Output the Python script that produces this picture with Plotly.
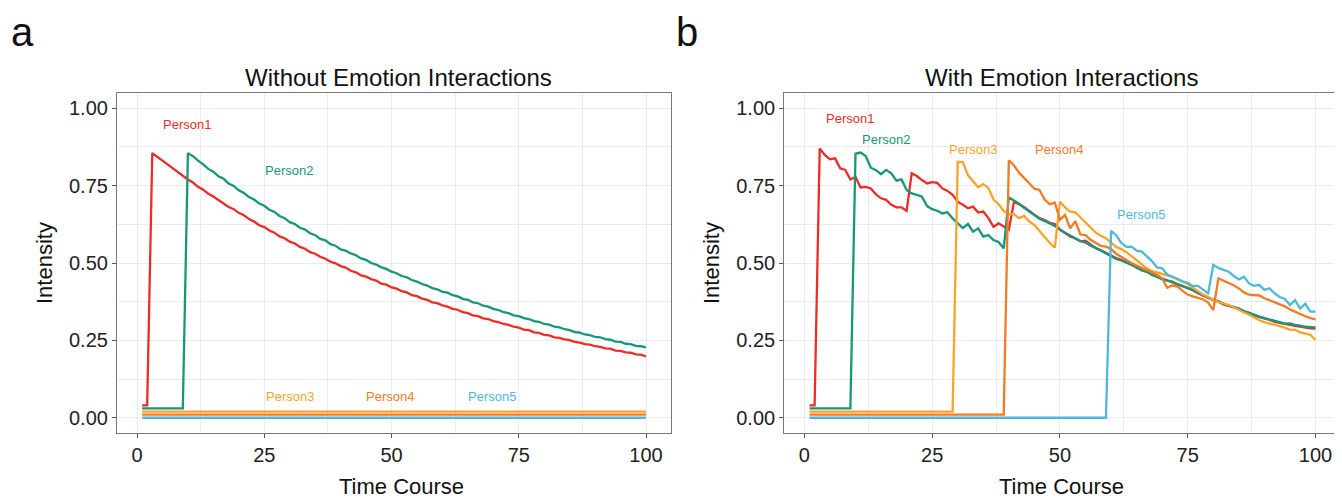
import plotly.graph_objects as go

# ---------------- data ----------------
time_course = list(range(1, 101))
persons = ["Person1", "Person2", "Person3", "Person4", "Person5"]
person_colors = ["#EC2D27", "#17977A", "#F6A52A", "#F47A25", "#4DB8DA"]
y_tick_vals = [0, 0.25, 0.5, 0.75, 1.0]
y_tick_text = ["0.00", "0.25", "0.50", "0.75", "1.00"]
x_tick_vals = [0, 25, 50, 75, 100]
x_tick_text = ["0", "25", "50", "75", "100"]

# Panel a: Without Emotion Interactions
a_person1 = [
    .040, .040, .855, .843, .832, .818, .806, .796, .781, .770,
    .760, .746, .737, .724, .715, .703, .694, .681, .674, .662,
    .654, .642, .634, .622, .616, .605, .598, .586, .580, .569,
    .563, .552, .546, .535, .530, .520, .514, .504, .499, .490,
    .485, .475, .470, .460, .456, .448, .443, .433, .430, .421,
    .417, .409, .405, .396, .393, .385, .381, .373, .370, .363,
    .359, .352, .349, .341, .338, .331, .328, .321, .319, .312,
    .309, .303, .300, .294, .291, .285, .283, .276, .274, .268,
    .266, .260, .258, .253, .251, .245, .243, .238, .236, .231,
    .229, .224, .223, .217, .216, .211, .210, .205, .204, .198,
]
a_person2 = [
    .030, .030, .030, .030, .030, .030, .030, .030, .030, .855,
    .845, .831, .819, .804, .795, .780, .772, .757, .749, .735,
    .726, .713, .705, .692, .685, .672, .665, .652, .645, .632,
    .626, .614, .608, .596, .590, .578, .573, .561, .556, .544,
    .540, .531, .525, .515, .510, .500, .495, .486, .481, .472,
    .467, .458, .454, .445, .440, .432, .427, .419, .415, .407,
    .404, .396, .392, .384, .381, .373, .370, .362, .359, .352,
    .348, .341, .338, .331, .328, .322, .319, .312, .310, .303,
    .301, .294, .292, .286, .283, .277, .275, .269, .267, .261,
    .260, .254, .252, .246, .245, .239, .238, .232, .231, .227,
]
a_person3 = [
    .020, .020, .020, .020, .020, .020, .020, .020, .020, .020,
    .020, .020, .020, .020, .020, .020, .020, .020, .020, .020,
    .020, .020, .020, .020, .020, .020, .020, .020, .020, .020,
    .020, .020, .020, .020, .020, .020, .020, .020, .020, .020,
    .020, .020, .020, .020, .020, .020, .020, .020, .020, .020,
    .020, .020, .020, .020, .020, .020, .020, .020, .020, .020,
    .020, .020, .020, .020, .020, .020, .020, .020, .020, .020,
    .020, .020, .020, .020, .020, .020, .020, .020, .020, .020,
    .020, .020, .020, .020, .020, .020, .020, .020, .020, .020,
    .020, .020, .020, .020, .020, .020, .020, .020, .020, .020,
]
a_person4 = [
    .010, .010, .010, .010, .010, .010, .010, .010, .010, .010,
    .010, .010, .010, .010, .010, .010, .010, .010, .010, .010,
    .010, .010, .010, .010, .010, .010, .010, .010, .010, .010,
    .010, .010, .010, .010, .010, .010, .010, .010, .010, .010,
    .010, .010, .010, .010, .010, .010, .010, .010, .010, .010,
    .010, .010, .010, .010, .010, .010, .010, .010, .010, .010,
    .010, .010, .010, .010, .010, .010, .010, .010, .010, .010,
    .010, .010, .010, .010, .010, .010, .010, .010, .010, .010,
    .010, .010, .010, .010, .010, .010, .010, .010, .010, .010,
    .010, .010, .010, .010, .010, .010, .010, .010, .010, .010,
]
a_person5 = [
    .000, .000, .000, .000, .000, .000, .000, .000, .000, .000,
    .000, .000, .000, .000, .000, .000, .000, .000, .000, .000,
    .000, .000, .000, .000, .000, .000, .000, .000, .000, .000,
    .000, .000, .000, .000, .000, .000, .000, .000, .000, .000,
    .000, .000, .000, .000, .000, .000, .000, .000, .000, .000,
    .000, .000, .000, .000, .000, .000, .000, .000, .000, .000,
    .000, .000, .000, .000, .000, .000, .000, .000, .000, .000,
    .000, .000, .000, .000, .000, .000, .000, .000, .000, .000,
    .000, .000, .000, .000, .000, .000, .000, .000, .000, .000,
    .000, .000, .000, .000, .000, .000, .000, .000, .000, .000,
]

# Panel b: With Emotion Interactions
b_person1 = [
    .040, .040, .870, .849, .835, .838, .806, .801, .770, .778,
    .744, .746, .741, .722, .709, .704, .688, .680, .680, .668,
    .790, .781, .768, .757, .761, .759, .741, .733, .720, .698,
    .688, .677, .682, .663, .666, .645, .617, .628, .618, .608,
    .697, .690, .680, .667, .656, .645, .639, .630, .626, .608,
    .596, .586, .579, .570, .572, .559, .548, .541, .532, .524,
    .516, .510, .504, .496, .485, .478, .470, .462, .456, .448,
    .443, .440, .430, .425, .418, .412, .402, .394, .387, .380,
    .375, .366, .361, .356, .352, .343, .339, .330, .326, .320,
    .316, .310, .306, .302, .300, .297, .294, .290, .289, .288,
]
b_person2 = [
    .030, .030, .030, .030, .030, .030, .030, .030, .030, .853,
    .857, .846, .808, .800, .787, .801, .790, .766, .770, .736,
    .725, .720, .714, .684, .674, .669, .660, .664, .644, .628,
    .613, .626, .601, .612, .585, .590, .574, .568, .547, .712,
    .703, .692, .678, .666, .654, .643, .636, .627, .620, .607,
    .598, .588, .578, .571, .566, .556, .549, .540, .531, .522,
    .513, .508, .502, .494, .486, .476, .472, .461, .455, .447,
    .444, .438, .430, .424, .418, .413, .404, .396, .389, .381,
    .376, .368, .362, .358, .353, .345, .340, .333, .327, .322,
    .318, .312, .308, .304, .305, .300, .298, .294, .293, .292,
]
b_person3 = [
    .020, .020, .020, .020, .020, .020, .020, .020, .020, .020,
    .020, .020, .020, .020, .020, .020, .020, .020, .020, .020,
    .020, .020, .020, .020, .020, .020, .020, .020, .020, .827,
    .826, .784, .765, .745, .755, .742, .705, .690, .668, .656,
    .658, .645, .652, .634, .623, .604, .582, .565, .550, .698,
    .680, .666, .664, .648, .632, .616, .598, .588, .580, .566,
    .552, .545, .535, .522, .510, .496, .482, .474, .470, .466,
    .460, .455, .447, .440, .432, .420, .408, .398, .390, .380,
    .374, .370, .365, .357, .348, .340, .333, .324, .315, .309,
    .305, .301, .297, .291, .284, .284, .276, .273, .268, .251,
]
b_person4 = [
    .010, .010, .010, .010, .010, .010, .010, .010, .010, .010,
    .010, .010, .010, .010, .010, .010, .010, .010, .010, .010,
    .010, .010, .010, .010, .010, .010, .010, .010, .010, .010,
    .010, .010, .010, .010, .010, .010, .010, .010, .010, .832,
    .815, .792, .775, .760, .740, .736, .705, .690, .695, .640,
    .655, .612, .635, .592, .590, .575, .565, .555, .553, .545,
    .530, .520, .508, .500, .492, .484, .476, .470, .462, .450,
    .420, .428, .424, .410, .398, .392, .388, .382, .372, .348,
    .450, .443, .434, .428, .418, .405, .398, .397, .395, .386,
    .380, .372, .368, .360, .350, .342, .336, .328, .322, .318,
]
b_person5 = [
    .000, .000, .000, .000, .000, .000, .000, .000, .000, .000,
    .000, .000, .000, .000, .000, .000, .000, .000, .000, .000,
    .000, .000, .000, .000, .000, .000, .000, .000, .000, .000,
    .000, .000, .000, .000, .000, .000, .000, .000, .000, .000,
    .000, .000, .000, .000, .000, .000, .000, .000, .000, .000,
    .000, .000, .000, .000, .000, .000, .000, .000, .000, .604,
    .590, .565, .552, .553, .540, .537, .522, .506, .486, .483,
    .463, .455, .447, .441, .436, .426, .426, .414, .402, .494,
    .484, .478, .472, .458, .447, .456, .434, .426, .429, .413,
    .418, .402, .390, .384, .364, .380, .353, .368, .343, .343,
]

# label anchor points (data coordinates) for the person names
a_label_t = [9.8, 29.9, 30.0, 49.7, 69.7]
a_label_v = [0.948, 0.798, 0.068, 0.068, 0.068]
b_label_t = [8.9, 16.0, 32.9, 49.8, 65.8]
b_label_v = [0.968, 0.898, 0.867, 0.867, 0.657]

panel_titles = ["Without Emotion Interactions", "With Emotion Interactions"]
panel_letters = ["a", "b"]
x_title = "Time Course"
y_title = "Intensity"

# ---------------- figure ----------------
# the page body has an 8px margin, so the figure is drawn 8px in from the corner
OFF = 8
W, H = 1342 - OFF, 501 - OFF
FONT = "Liberation Sans, Arial, Helvetica, sans-serif"

fig = go.Figure()

panel_a = [a_person1, a_person2, a_person3, a_person4, a_person5]
panel_b = [b_person1, b_person2, b_person3, b_person4, b_person5]

for xa, ya, series in (("x", "y", panel_a), ("x2", "y2", panel_b)):
    for name, vals, col in zip(persons, series, person_colors):
        fig.add_trace(go.Scatter(
            x=time_course, y=vals, mode="lines", name=name,
            line=dict(color=col, width=2.3),
            xaxis=xa, yaxis=ya, showlegend=False, hoverinfo="skip",
        ))

def px_x(p):
    return (p - OFF) / W

def px_y(p):
    return 1 - (p - OFF) / H

y_dom = [px_y(433.2), px_y(92.8)]
x_dom_a = [px_x(116.9), px_x(671.2)]
x_dom_b = [px_x(784.2), min(1.0, px_x(1340.8))]

axis_common = dict(
    showline=True, mirror=True, linecolor="#7A7A7A", linewidth=1,
    ticks="outside", ticklen=4, tickwidth=1, tickcolor="#555555",
    showgrid=True, gridcolor="#EBEBEB", gridwidth=1.1,
    zeroline=False,
    tickfont=dict(family=FONT, size=20, color="#222222"),
)

xaxis_cfg = dict(
    range=[-3.95, 104.95], tickmode="array", tickvals=x_tick_vals, ticktext=x_tick_text,
    minor=dict(tick0=12.5, dtick=25, showgrid=True, gridcolor="#EBEBEB", gridwidth=0.6, ticks=""),
    **axis_common,
)
yaxis_cfg = dict(
    range=[-0.05, 1.05], tickmode="array", tickvals=y_tick_vals, ticktext=y_tick_text,
    minor=dict(tick0=0.125, dtick=0.25, showgrid=True, gridcolor="#EBEBEB", gridwidth=0.6, ticks=""),
    **axis_common,
)

fig.update_layout(
    width=W, height=H,
    margin=dict(l=0, r=0, t=0, b=0),
    paper_bgcolor="white", plot_bgcolor="white",
    xaxis=dict(domain=x_dom_a, anchor="y", **xaxis_cfg),
    yaxis=dict(domain=y_dom, anchor="x", **yaxis_cfg),
    xaxis2=dict(domain=x_dom_b, anchor="y2", **xaxis_cfg),
    yaxis2=dict(domain=y_dom, anchor="x2", **yaxis_cfg),
)

annotations = []
# person labels
for (xr, yr, lt, lv) in (("x", "y", a_label_t, a_label_v), ("x2", "y2", b_label_t, b_label_v)):
    for name, col, t, v in zip(persons, person_colors, lt, lv):
        annotations.append(dict(
            x=t, y=v, xref=xr, yref=yr, text=name, showarrow=False,
            xanchor="center", yanchor="middle",
            font=dict(family=FONT, size=13, color=col),
        ))

# panel titles
for title, cx in zip(panel_titles, [398, 1061]):
    annotations.append(dict(
        x=px_x(cx), y=px_y(77), xref="paper", yref="paper", text=title,
        showarrow=False, xanchor="center", yanchor="middle",
        font=dict(family=FONT, size=24, color="#111111"),
    ))

# panel letters (kept fully inside the paper)
for letter, lx in zip(panel_letters, [10, 675]):
    annotations.append(dict(
        x=px_x(lx), y=px_y(9), xref="paper", yref="paper", text=letter,
        showarrow=False, xanchor="left", yanchor="top", borderpad=0,
        font=dict(family=FONT, size=40, color="#111111"),
    ))

# axis titles
for cx in [401, 1061]:
    annotations.append(dict(
        x=px_x(cx), y=px_y(486), xref="paper", yref="paper", text=x_title,
        showarrow=False, xanchor="center", yanchor="middle",
        font=dict(family=FONT, size=22, color="#111111"),
    ))
for cx in [44, 711]:
    annotations.append(dict(
        x=px_x(cx), y=px_y(263), xref="paper", yref="paper", text=y_title,
        showarrow=False, xanchor="center", yanchor="middle", textangle=-90,
        font=dict(family=FONT, size=22, color="#111111"),
    ))

fig.update_layout(annotations=annotations)

fig.write_html("out.html")
